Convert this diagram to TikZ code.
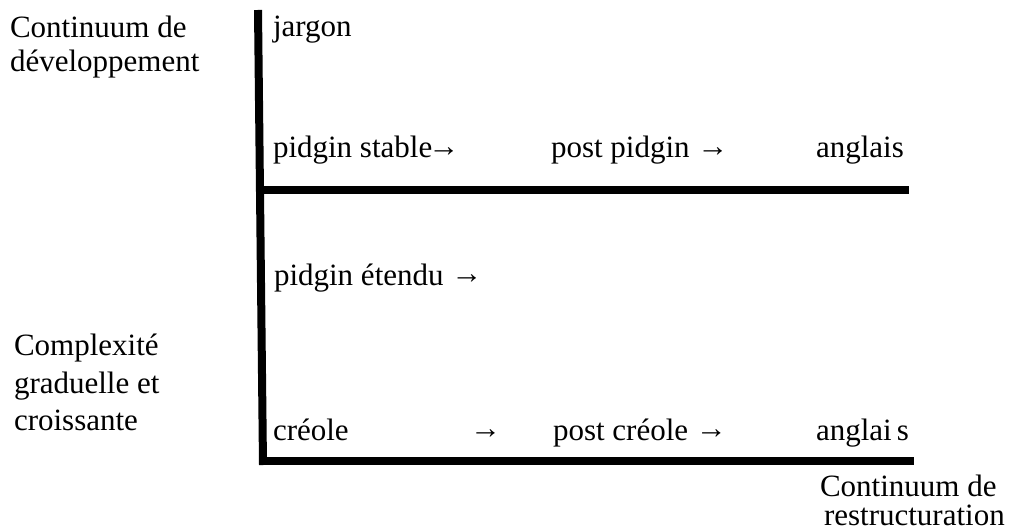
\documentclass[tikz,border=0pt]{standalone}
\usepackage{fontspec}
\setmainfont{Liberation Serif}
\newcommand{\arr}{\raisebox{1.5pt}{→}}
\begin{document}
\begin{tikzpicture}[x=1pt,y=1pt,
  lbl/.style={anchor=base west,inner sep=0pt,outer sep=0pt,font=\fontsize{31}{35}\selectfont},
  axis/.style={line width=8pt,line cap=butt}]
\useasboundingbox (0,0) rectangle (1024,531);
% axes
\coordinate (top) at (258,521);
\coordinate (corner) at (263,70);
\coordinate (midL) at (258,341);
\coordinate (midR) at (909,341);
\coordinate (botR) at (914,70);
\draw[axis] (top) -- ([yshift=-4pt]corner);
\draw[axis] (midL) -- (midR);
\draw[axis] ([xshift=-4pt]corner) -- (botR);
% left-hand labels
\node[lbl] (cd1) at (10,493) {Continuum de};
\node[lbl] (cd2) at (10,459) {développement};
\node[lbl] (cg1) at (14,176) {Complexité};
\node[lbl] (cg2) at (14,138) {graduelle et};
\node[lbl] (cg3) at (14,101) {croissante};
% stages
\node[lbl] (jargon) at (273,494) {jargon};
\node[lbl] (pstable) at (273,373) {pidgin stable\kern-4pt\arr};
\node[lbl] (ppidgin) at (551,373) {post pidgin \arr};
\node[lbl] (angl1) at (816,373) {anglais};
\node[lbl] (petendu) at (274,246) {pidgin étendu \arr};
\node[lbl] (creole) at (273,91) {créole};
\node[lbl] (carrow) at (470,91) {\arr};
\node[lbl] (pcreole) at (553,91) {post créole \arr};
\node[lbl] (angl2) at (816,91) {anglai\,s};
% bottom-right label
\node[lbl] (cr1) at (820,35) {Continuum de};
\node[lbl] (cr2) at (824,6) {restructuration};
\end{tikzpicture}
\end{document}
